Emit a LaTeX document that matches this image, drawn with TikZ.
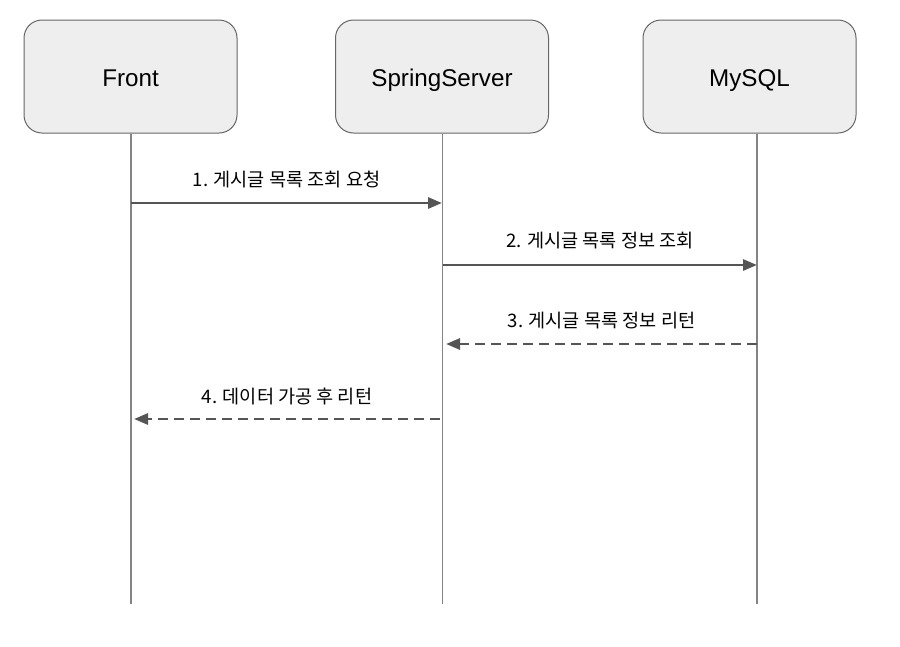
\documentclass[tikz,border=0pt]{standalone}
\usepackage{fontspec}
\setmainfont{Liberation Sans}
\newfontfamily\krfont{Noto Sans CJK KR}
\usetikzlibrary{arrows.meta}

\definecolor{boxfill}{HTML}{EEEEEE}
\definecolor{boxline}{HTML}{666666}
\definecolor{msgline}{HTML}{555555}
\definecolor{lifegray}{HTML}{848484}

\tikzset{
    actor/.style={draw=boxline, fill=boxfill, rounded corners=18pt,
        minimum width=213pt, minimum height=113pt, line width=1pt,
        text height=22pt, text depth=3pt,
        font=\fontsize{24.2}{28}\selectfont},
    life/.style={draw=lifegray, line width=1.5pt},
    call/.style={draw=msgline, line width=2.8pt,
        -{Triangle[length=14pt,width=11pt]}},
    reply/.style={call, dash pattern=on 10pt off 6pt},
    msg/.style={font=\krfont\fontsize{18.6}{22}\selectfont, text=black}
}

\begin{document}
\begin{tikzpicture}[x=1pt, y=-1pt]
    \useasboundingbox (0,0) rectangle (900,646);

    % participants
    \node[actor] (front) at (130.5,76.5) {Front};
    \node[actor] (server) at (442,76.5) {SpringServer};
    \node[actor] (mysql) at (749.5,76.5) {MySQL};

    % lifelines
    \coordinate (frontEnd) at (131,604);
    \coordinate (serverEnd) at (442.5,604);
    \coordinate (mysqlEnd) at (757,604);
    \draw[life] (front.south -| frontEnd) -- (frontEnd);
    \draw[life] (server.south -| serverEnd) -- (serverEnd);
    \draw[life] (mysql.south -| mysqlEnd) -- (mysqlEnd);

    % messages
    \coordinate (m1a) at (131,203);
    \coordinate (m1b) at (442,203);
    \coordinate (m2a) at (443,265);
    \coordinate (m2b) at (757,265);
    \coordinate (m3a) at (757,344);
    \coordinate (m3b) at (446,344);
    \coordinate (m4a) at (440,419);
    \coordinate (m4b) at (134,419);

    \draw[call] (m1a) -- (m1b)
        node[msg, midway, yshift=23pt] (lbl1) {1. 게시글 목록 조회 요청};
    \draw[call] (m2a) -- (m2b)
        node[msg, midway, yshift=24pt] (lbl2) {2. 게시글 목록 정보 조회};
    \draw[reply] (m3a) -- (m3b)
        node[msg, midway, yshift=23pt] (lbl3) {3. 게시글 목록 정보 리턴};
    \draw[reply] (m4a) -- (m4b)
        node[msg, midway, yshift=23pt] (lbl4) {4. 데이터 가공 후 리턴};
\end{tikzpicture}
\end{document}
